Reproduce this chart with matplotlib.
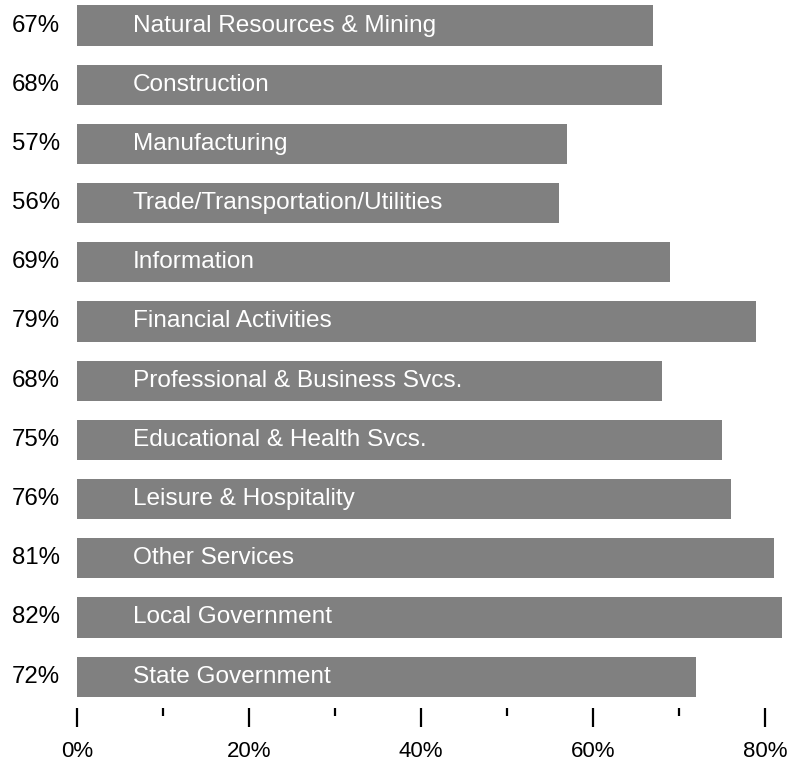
import matplotlib
matplotlib.use("Agg")
import matplotlib.pyplot as plt
from matplotlib.ticker import MultipleLocator, FuncFormatter

# Share of employees by industry
categories = [
    "Natural Resources & Mining",
    "Construction",
    "Manufacturing",
    "Trade/Transportation/Utilities",
    "Information",
    "Financial Activities",
    "Professional & Business Svcs.",
    "Educational & Health Svcs.",
    "Leisure & Hospitality",
    "Other Services",
    "Local Government",
    "State Government",
]
values = [67, 68, 57, 56, 69, 79, 68, 75, 76, 81, 82, 72]

bar_color = "#808080"
font = ["Liberation Sans", "DejaVu Sans"]

fig = plt.figure(figsize=(7.88, 7.66), dpi=100)
W, H = 788, 766
ax_left, ax_right = 77 / W, 1.0
ax_bottom, ax_top = 1 - 708 / H, 1.0
ax = fig.add_axes([ax_left, ax_bottom, ax_right - ax_left, ax_top - ax_bottom])

pos = list(range(len(categories)))
ax.barh(pos, values, height=0.68, color=bar_color, edgecolor="none")

ax.set_xlim(0, 82.67)
ax.set_ylim(11.53, -0.431)

for y, (cat, v) in enumerate(zip(categories, values)):
    ax.text(6.5, y, cat, color="white", va="center", ha="left",
            fontsize=17.6, family=font)
    ax.text(-2.0, y, f"{v}%", color="black", va="center", ha="right",
            fontsize=17.3, family=font, clip_on=False)

for s in ax.spines.values():
    s.set_visible(False)
ax.set_yticks([])
ax.xaxis.set_major_locator(MultipleLocator(20))
ax.xaxis.set_minor_locator(MultipleLocator(10))
ax.xaxis.set_major_formatter(FuncFormatter(lambda x, _: f"{x:.0f}%"))
ax.tick_params(axis="x", which="major", direction="out", length=13.5,
               width=1.6, pad=10, labelsize=16)
ax.tick_params(axis="x", which="minor", direction="out", length=6,
               width=1.6)
for lab in ax.get_xticklabels():
    lab.set_family(font)

fig.savefig("out.png", dpi=100)
